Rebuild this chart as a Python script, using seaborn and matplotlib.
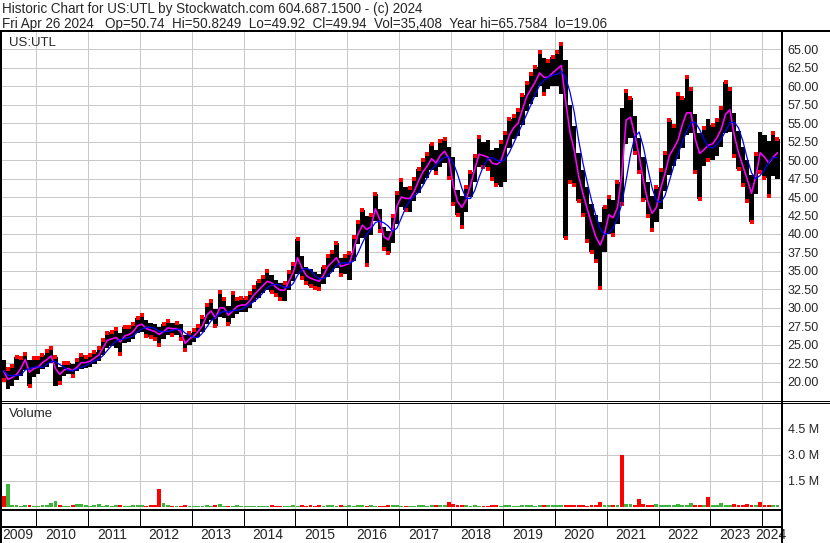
import numpy as np
import pandas as pd
import matplotlib
matplotlib.use("Agg")
import matplotlib.pyplot as plt
from matplotlib.lines import Line2D
import seaborn as sns

# Monthly values, May 2009 .. Apr 2024 (one row per year)
first_month = "2009-05"

month_avg = [
    21.5, 20.3, 20.6, 21.0, 21.8, 23.0, 21.3, 21.8,
    22.0, 22.6, 23.0, 23.5, 21.8, 21.0, 21.6, 21.8, 21.5, 22.0, 22.6, 22.6,
    22.8, 23.2, 23.6, 24.6, 25.6, 25.8, 26.0, 25.4, 26.2, 26.4, 26.8, 27.6,
    27.8, 27.2, 27.0, 26.8, 26.4, 26.8, 27.3, 27.2, 27.2, 26.8, 25.2, 25.8,
    26.2, 26.8, 27.6, 29.0, 29.6, 28.6, 30.0, 30.0, 29.0, 29.6, 30.2, 30.4,
    30.4, 31.0, 31.8, 32.4, 33.0, 33.6, 33.4, 32.8, 32.4, 32.4, 33.6, 34.8,
    36.8, 35.4, 34.4, 34.0, 33.8, 33.6, 34.4, 35.6, 36.2, 36.8, 35.6, 35.8,
    36.0, 38.0, 40.0, 41.2, 40.6, 41.0, 43.4, 42.0, 39.6, 39.2, 40.6, 43.8,
    45.0, 44.8, 44.8, 45.8, 47.2, 48.4, 49.2, 50.2, 49.6, 50.6, 51.2, 50.2,
    46.6, 44.4, 43.6, 44.6, 46.6, 48.8, 50.8, 50.6, 50.4, 49.6, 49.4, 49.8,
    51.6, 53.4, 54.4, 55.0, 56.8, 58.6, 59.6, 60.6, 61.8, 61.2, 61.2, 61.8,
    62.3, 62.8, 58.0, 53.8, 51.3, 47.9, 45.5, 43.4, 41.4, 39.6, 38.5, 40.0,
    42.6, 42.2, 43.6, 48.0, 55.4, 55.8, 53.4, 50.6, 47.2, 44.4, 42.8, 43.6,
    46.2, 48.2, 50.6, 51.6, 52.7, 54.8, 56.4, 56.4, 52.8, 50.9, 51.4, 52.0,
    52.2, 53.0, 54.2, 56.2, 56.8, 53.4, 51.0, 49.2, 47.4, 45.5, 47.8, 51.0,
    50.4, 49.6, 50.4, 51.0,
]

month_high = [
    22.9, 21.8, 22.2, 23.4, 23.2, 23.8, 23.0, 23.2,
    23.2, 23.6, 24.2, 24.6, 23.4, 22.0, 22.6, 22.6, 22.4, 23.0, 23.6, 23.4,
    23.6, 24.0, 24.6, 25.6, 26.6, 26.8, 27.2, 26.6, 27.4, 27.4, 27.8, 28.6,
    29.0, 28.4, 28.0, 27.8, 27.4, 27.8, 28.2, 28.0, 28.0, 27.8, 26.4, 26.6,
    27.0, 27.6, 28.8, 30.4, 30.9, 29.8, 32.2, 31.2, 30.2, 32.0, 31.2, 31.4,
    31.4, 32.0, 32.8, 33.6, 34.2, 35.0, 34.4, 33.8, 33.4, 33.4, 34.8, 36.0,
    39.3, 37.0, 35.6, 35.2, 34.8, 34.6, 35.6, 37.0, 37.6, 38.8, 36.8, 37.0,
    37.4, 39.6, 41.6, 43.3, 42.4, 42.6, 45.4, 43.4, 41.0, 40.4, 42.4, 45.6,
    47.3, 46.4, 46.2, 47.4, 48.8, 50.0, 50.8, 52.2, 51.4, 52.6, 52.9, 51.8,
    50.4, 46.0, 45.2, 46.4, 48.4, 50.6, 53.1, 52.4, 52.7, 51.4, 51.6, 52.4,
    53.6, 55.6, 56.0, 56.8, 58.8, 60.4, 61.6, 62.6, 64.6, 63.8, 63.4, 64.0,
    64.6, 65.76, 63.5, 57.4, 54.6, 51.0, 48.6, 46.4, 44.0, 42.6, 41.6, 43.6,
    45.0, 44.6, 47.0, 57.0, 59.4, 58.4, 56.0, 53.0, 50.4, 47.0, 45.2, 46.4,
    48.6, 51.0, 55.4, 54.6, 59.0, 58.4, 61.2, 59.6, 56.2, 53.6, 54.4, 55.6,
    54.8, 55.4, 57.0, 60.5, 59.6, 56.4, 54.0, 51.8, 50.0, 48.0, 50.8, 53.8,
    53.4, 52.6, 53.6, 52.8,
]

month_low = [
    20.2, 19.06, 19.5, 20.2, 20.8, 21.6, 19.4, 20.6,
    21.0, 21.8, 22.0, 22.6, 19.4, 19.8, 20.8, 21.0, 20.8, 21.4, 21.8, 21.9,
    22.0, 22.4, 22.8, 23.6, 24.6, 24.8, 24.6, 23.8, 25.2, 25.4, 25.8, 26.6,
    26.8, 26.2, 26.0, 25.8, 25.0, 25.8, 26.4, 26.4, 26.4, 25.8, 24.3, 25.0,
    25.4, 26.0, 26.8, 27.8, 28.4, 27.6, 28.8, 28.6, 27.8, 28.6, 29.2, 29.4,
    29.4, 30.0, 30.8, 31.4, 32.0, 32.4, 32.2, 31.8, 31.2, 31.0, 32.4, 33.6,
    34.6, 34.0, 33.4, 33.0, 32.7, 32.6, 33.2, 34.2, 34.8, 35.4, 34.4, 34.6,
    33.8, 36.4, 38.6, 39.4, 35.8, 39.8, 41.8, 40.4, 38.0, 37.4, 38.8, 41.4,
    43.6, 43.2, 43.0, 44.4, 45.6, 46.8, 47.6, 48.6, 48.2, 49.0, 49.6, 47.6,
    44.0, 42.6, 40.9, 43.0, 45.0, 47.0, 49.0, 49.0, 48.8, 47.4, 46.6, 46.4,
    47.0, 51.6, 52.8, 53.3, 54.8, 56.6, 57.6, 58.6, 60.0, 59.0, 59.6, 60.0,
    60.0, 59.0, 39.4, 47.0, 46.6, 44.5, 42.6, 39.0, 37.6, 36.4, 32.7, 37.6,
    40.0, 39.8, 41.4, 44.0, 52.2, 53.0, 51.0, 48.4, 44.6, 42.4, 40.6, 41.6,
    43.4, 45.8, 48.0, 49.2, 50.2, 51.6, 53.4, 53.6, 48.4, 44.8, 49.2, 50.0,
    50.0, 50.6, 51.8, 53.6, 53.8, 50.6, 48.8, 46.6, 44.4, 41.6, 45.4, 48.4,
    47.6, 45.2, 47.8, 47.4,
]

# largest daily volume in each month, millions of shares
month_vol = [
    0.63, 1.30, 0.12, 0.10, 0.08, 0.12, 0.10, 0.08,
    0.08, 0.10, 0.12, 0.22, 0.33, 0.10, 0.08, 0.07, 0.10, 0.20, 0.20, 0.10,
    0.08, 0.10, 0.15, 0.08, 0.10, 0.07, 0.09, 0.10, 0.08, 0.07, 0.09, 0.10,
    0.10, 0.08, 0.12, 0.10, 1.05, 0.25, 0.12, 0.08, 0.07, 0.08, 0.10, 0.08,
    0.07, 0.08, 0.06, 0.09, 0.08, 0.10, 0.18, 0.07, 0.06, 0.08, 0.09, 0.07,
    0.06, 0.07, 0.08, 0.06, 0.08, 0.07, 0.09, 0.08, 0.06, 0.07, 0.08, 0.09,
    0.08, 0.10, 0.08, 0.09, 0.07, 0.10, 0.08, 0.09, 0.10, 0.08, 0.09, 0.08,
    0.10, 0.08, 0.12, 0.09, 0.08, 0.10, 0.07, 0.08, 0.06, 0.09, 0.10, 0.12,
    0.08, 0.07, 0.06, 0.08, 0.10, 0.09, 0.08, 0.10, 0.09, 0.12, 0.10, 0.30,
    0.15, 0.12, 0.10, 0.09, 0.08, 0.10, 0.07, 0.06, 0.08, 0.09, 0.10, 0.08,
    0.10, 0.09, 0.08, 0.07, 0.10, 0.12, 0.09, 0.08, 0.10, 0.12, 0.10, 0.14,
    0.12, 0.10, 0.14, 0.12, 0.10, 0.09, 0.11, 0.08, 0.10, 0.12, 0.30, 0.12,
    0.10, 0.12, 0.14, 3.00, 0.18, 0.15, 0.12, 0.45, 0.20, 0.12, 0.10, 0.15,
    0.12, 0.14, 0.12, 0.10, 0.15, 0.12, 0.14, 0.25, 0.12, 0.10, 0.14, 0.60,
    0.12, 0.14, 0.25, 0.12, 0.10, 0.15, 0.12, 0.10, 0.20, 0.12, 0.14, 0.30,
    0.12, 0.10, 0.12, 0.10,
]
red_vol_months = ["2009-05", "2012-05", "2017-12", "2021-04", "2022-12", "2023-12"]
green_vol_months = ["2009-06", "2010-05", "2010-04"]

price_ticks = [20, 22.5, 25, 27.5, 30, 32.5, 35, 37.5, 40, 42.5, 45, 47.5,
               50, 52.5, 55, 57.5, 60, 62.5, 65]
vol_ticks = [1.5, 3.0, 4.5]
year_lines = list(range(2010, 2025))
year_labels = list(range(2009, 2025))

header_1 = "Historic Chart for US:UTL by Stockwatch.com 604.687.1500 - (c) 2024"
header_2 = ("Fri Apr 26 2024   Op=50.74  Hi=50.8249  Lo=49.92  Cl=49.94  "
            "Vol=35,408  Year hi=65.7584  lo=19.06")

# build the table
months = pd.period_range(first_month, periods=len(month_avg), freq="M")
df = pd.DataFrame({
    "t": months.year + (months.month - 0.5) / 12,
    "avg": month_avg,
    "high": month_high,
    "low": month_low,
    "vol": month_vol,
})
df["ma"] = df["avg"].rolling(4, min_periods=1).mean()
df["down"] = df["avg"].diff().fillna(-1) < 0
labels = months.strftime("%Y-%m")
df.loc[labels.isin(red_vol_months), "down"] = True
df.loc[labels.isin(green_vol_months), "down"] = False

sns.set_style("white")
plt.rcParams["font.family"] = ["Liberation Sans", "DejaVu Sans"]

W, H = 830, 543
PT = 0.72  # points per pixel at 100 dpi
fig = plt.figure(figsize=(W / 100, H / 100), dpi=100)


def rect(l, t, r, b):
    return [l / W, 1 - b / H, (r - l) / W, (b - t) / H]


def fig_line(x0, y0, x1, y1, lw):
    fig.add_artist(Line2D([x0 / W, x1 / W], [1 - y0 / H, 1 - y1 / H],
                          transform=fig.transFigure, color="black",
                          linewidth=lw * PT, solid_capstyle="butt"))


x_left, x_right = 2009.3446, 2024.3793
grid_kw = dict(color="#c8c8c8", linewidth=1 * PT)

# price panel
ax = fig.add_axes(rect(2, 32, 782, 400))
ax.bar(df["t"], df["high"] - df["low"], bottom=df["low"], width=1 / 12,
       color="black", linewidth=0, zorder=3)
up = df[~df["down"]]
dn = df[df["down"]]
ax.plot(up["t"], up["high"], ls="none", marker="s", ms=2.2, mew=0, color="red", zorder=4)
ax.plot(dn["t"], dn["low"], ls="none", marker="s", ms=2.2, mew=0, color="red", zorder=4)
sns.lineplot(data=df, x="t", y="avg", ax=ax, color="#ff00ff", linewidth=1.15,
             zorder=5, legend=False)
sns.lineplot(data=df, x="t", y="ma", ax=ax, color="#0000ff", linewidth=0.9,
             zorder=6, legend=False)
ax.set_xlim(x_left, x_right)
ax.set_ylim(17.54, 67.33)
ax.set_xticks(year_lines)
ax.set_yticks(price_ticks)
ax.set_yticklabels([f"{v:.2f}" for v in price_ticks])
ax.yaxis.tick_right()
ax.tick_params(axis="both", length=0)
ax.tick_params(axis="y", pad=4, labelsize=9)
ax.tick_params(axis="x", labelbottom=False)
ax.grid(True, **grid_kw)
ax.set_axisbelow(True)
ax.set_xlabel("")
ax.set_ylabel("")
for s in ax.spines.values():
    s.set_visible(False)

# volume panel
vax = fig.add_axes(rect(2, 404, 782, 510))
vax.bar(df["t"], df["vol"], width=0.9 / 12, linewidth=0, zorder=3,
        color=np.where(df["down"], "#ff0000", "#3cb43c"))
vax.set_xlim(x_left, x_right)
vax.set_ylim(-0.171, 5.886)
vax.set_xticks(year_lines)
vax.set_yticks(vol_ticks)
vax.set_yticklabels([f"{v:.1f} M" for v in vol_ticks])
vax.yaxis.tick_right()
vax.tick_params(axis="both", length=0)
vax.tick_params(axis="y", pad=4, labelsize=9)
vax.tick_params(axis="x", labelbottom=False)
vax.grid(True, **grid_kw)
vax.set_axisbelow(True)
for s in vax.spines.values():
    s.set_visible(False)

# date strip: boxes row and label row
dax = fig.add_axes(rect(2, 510, 782, 527))
dax.set_xlim(x_left, x_right)
dax.set_ylim(0, 1)
dax.vlines(year_lines, 0, 1, color="black", linewidth=1 * PT)
dax.axis("off")

lax = fig.add_axes(rect(2, 527, 782, 542))
lax.set_xlim(x_left, x_right)
lax.set_ylim(0, 1)
for yr in year_labels:
    lo_edge = max(yr, x_left)
    hi_edge = min(yr + 1, x_right)
    lax.text((lo_edge + hi_edge) / 2 - 0.03, 0.45, str(yr), ha="center",
             va="center", fontsize=10, clip_on=False)
lax.axis("off")

# frame lines
fig_line(0, 31, W, 31, 2)
fig_line(0, 400.5, W, 400.5, 1)
fig_line(0, 403, W, 403, 1)
fig_line(0, 510, 782, 510, 2)
fig_line(0, 527, 782, 527, 2)
fig_line(0, 542.5, 782, 542.5, 1)
fig_line(1, 31, 1, H, 2)
fig_line(782, 31, 782, H, 2)

# texts
fig.text(2 / W, 1 - 12.7 / H, header_1, fontsize=9.75, va="baseline")
fig.text(2 / W, 1 - 27.7 / H, header_2, fontsize=9.75, va="baseline")
fig.text(9 / W, 1 - 46 / H, "US:UTL", fontsize=9.5, va="baseline")
fig.text(9 / W, 1 - 417 / H, "Volume", fontsize=9.5, va="baseline")

fig.savefig("out.png", dpi=100)
